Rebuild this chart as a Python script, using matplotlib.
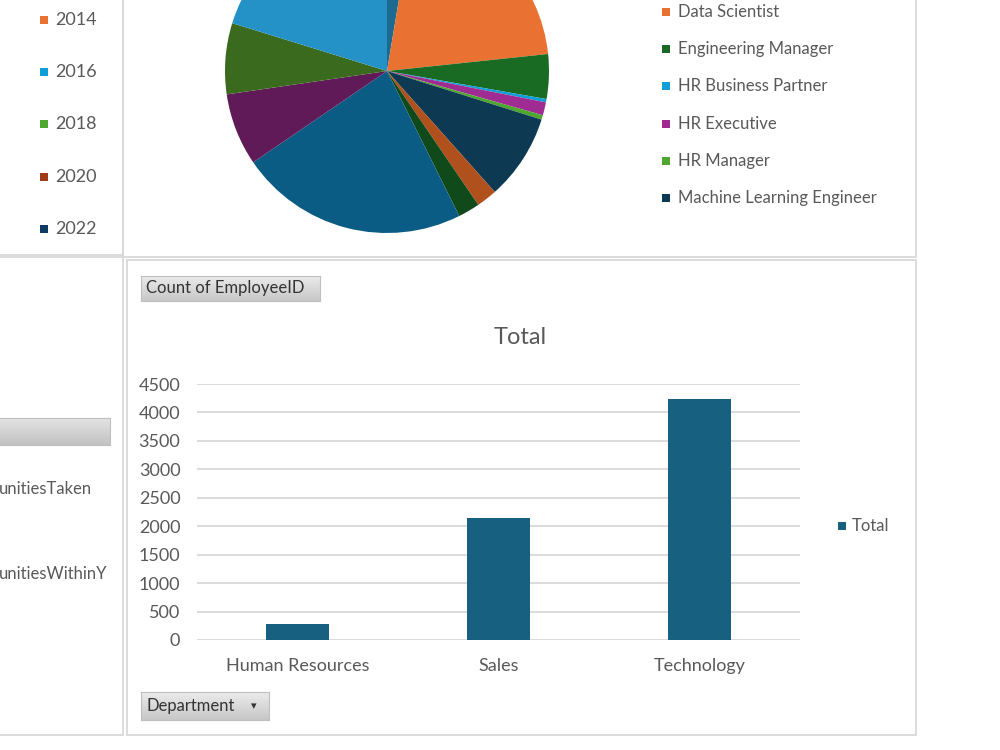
import numpy as np
import matplotlib
matplotlib.use('Agg')
import matplotlib.pyplot as plt
from matplotlib.patches import Rectangle

plt.rcParams['font.family'] = ['Lato', 'DejaVu Sans']

W, H = 1000, 750
GREY_TXT = '#595959'
BORDER = '#D9D9D9'

## Data
years = ['2014', '2016', '2018', '2020', '2022']
year_colors = ['#E97132', '#0F9ED5', '#4EA72E', '#A0391A', '#0E3A66']

# pie: count of employees per job title (first slice and the ones after MLE are cut off in the legend)
role_counts = [176, 1382, 297, 22, 87, 30, 572, 137, 145, 1525, 482, 473, 1351]
role_colors = ['#1C6A90', '#E97132', '#196B24', '#0F9ED5', '#A02B93', '#4EA72E', '#0D3A52',
               '#B0501C', '#114A1A', '#0B5C85', '#601A58', '#3A6A1E', '#2492C6']
legend_roles = ['Data Scientist', 'Engineering Manager', 'HR Business Partner',
                'HR Executive', 'HR Manager', 'Machine Learning Engineer']

departments = ['Human Resources', 'Sales', 'Technology']
dept_counts = [290, 2150, 4240]
bar_color = '#17607F'


def fbox(x, y, w, h):
    # pixel box (top-left origin) -> figure fraction rect
    return [x / W, 1 - (y + h) / H, w / W, h / H]


def panel(x, y, w, h):
    l, b, ww, hh = fbox(x, y, w, h)
    fig.add_artist(Rectangle((l, b), ww, hh, transform=fig.transFigure,
                             fill=False, ec=BORDER, lw=1.3))


def square(x, y, color, s=8):
    l, b, ww, hh = fbox(x, y - s / 2, s, s)
    fig.add_artist(Rectangle((l, b), ww, hh, transform=fig.transFigure,
                             fc=color, ec='none'))


def button(x, y, w, h, label, arrow=False, top=0.92, bot=0.78, size=12):
    bx = fig.add_axes(fbox(x, y, w, h))
    grad = np.linspace(top, bot, 60)[:, None]
    bx.imshow(grad, cmap='gray', vmin=0, vmax=1, aspect='auto', extent=(0, 1, 0, 1))
    bx.set_xticks([])
    bx.set_yticks([])
    for s in bx.spines.values():
        s.set_color('#BFBFBF')
        s.set_linewidth(0.8)
    if label:
        bx.text(5 / w, 0.5, label, transform=bx.transAxes, ha='left', va='center',
                size=size, color='#333333')
    if arrow:
        bx.text((w - 15) / w, 0.5, '\u25BE', transform=bx.transAxes, ha='center',
                va='center', size=8, color='#333333', family=['DejaVu Sans'])


fig = plt.figure(figsize=(10, 7.5), dpi=100)
fig.patch.set_facecolor('white')

# panel borders
panel(-5, -5, 128, 260)
panel(123, -5, 793, 262)
panel(-5, 257, 128, 478)
panel(127, 260, 789, 475)

## Top-left: year legend
for i, (yr, c) in enumerate(zip(years, year_colors)):
    yy = 20 + 52.2 * i
    square(40, yy, c)
    fig.text(55 / W, 1 - yy / H, yr, ha='left', va='center', size=13, color=GREY_TXT)

## Pie of job titles
ax = fig.add_axes(fbox(225, -91, 324, 324))
ax.pie(role_counts, colors=role_colors, startangle=90, counterclock=False,
       radius=1, wedgeprops=dict(linewidth=0))
ax.set_xlim(-1, 1)
ax.set_ylim(-1, 1)
ax.set_aspect('equal')

for i, name in enumerate(legend_roles):
    yy = 12 + 37.2 * i
    square(662, yy, role_colors[i + 1])
    fig.text(678 / W, 1 - yy / H, name, ha='left', va='center', size=12, color=GREY_TXT)

## Bottom-left: cut-off field list
button(-5, 418, 115, 27, '', top=0.89, bot=0.76)
fig.text(-1 / W, 1 - 489 / H, 'unitiesTaken', ha='left', va='center', size=12, color=GREY_TXT)
fig.text(-1 / W, 1 - 574 / H, 'unitiesWithinY', ha='left', va='center', size=12, color=GREY_TXT)

## Bar chart: count of EmployeeID by department
button(141, 276, 179, 25, 'Count of EmployeeID')
fig.text(520 / W, 1 - 338 / H, 'Total', ha='center', va='center', size=17, color=GREY_TXT)

axb = fig.add_axes(fbox(197, 384, 603, 256))
xs = np.arange(len(departments))
axb.bar(xs, dept_counts, width=0.31, color=bar_color, zorder=3)
axb.set_xlim(-0.5, len(departments) - 0.5)
axb.set_ylim(0, 4500)
axb.set_yticks(np.arange(0, 4501, 500))
axb.set_xticks(xs)
axb.set_xticklabels(departments)
axb.yaxis.grid(True, color=BORDER, lw=1.3, zorder=0)
axb.set_axisbelow(True)
for s in axb.spines.values():
    s.set_visible(False)
axb.tick_params(axis='y', length=0, labelsize=13, labelcolor=GREY_TXT, pad=12)
axb.tick_params(axis='x', length=0, labelsize=13, labelcolor=GREY_TXT, pad=13)

square(838, 526, bar_color)
fig.text(852 / W, 1 - 526 / H, 'Total', ha='left', va='center', size=12, color=GREY_TXT)

button(141, 692, 128, 28, 'Department', arrow=True)

fig.savefig('out.png', dpi=100)
